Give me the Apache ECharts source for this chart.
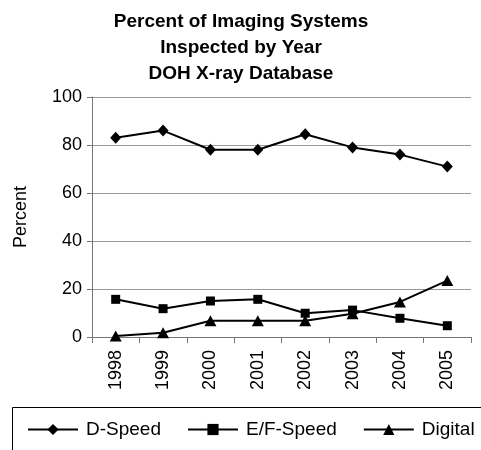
<!DOCTYPE html>
<html>
<head>
<meta charset="utf-8">
<script src="https://cdn.jsdelivr.net/npm/echarts@6/dist/echarts.min.js"></script>
<style>
  html, body { margin: 0; padding: 0; background: #fff; }
  #chart { width: 481px; height: 450px; }
</style>
</head>
<body>
<div id="chart"></div>
<script>
// data
var years = ['1998', '1999', '2000', '2001', '2002', '2003', '2004', '2005'];
var dSpeed = [83, 86, 78, 78, 84.5, 79, 76, 71];
var efSpeed = [15.7, 11.8, 15, 15.7, 9.9, 11.2, 7.8, 4.7];
var digital = [0.4, 1.8, 6.8, 6.8, 6.8, 9.7, 14.6, 23.5];
var yTicks = [0, 20, 40, 60, 80, 100];

var font = 'Arial, "Liberation Sans", sans-serif';

function lineSeries (name, data, symbol, size) {
  return {
    name: name,
    type: 'line',
    data: data,
    symbol: symbol,
    symbolSize: size,
    showAllSymbol: true,
    lineStyle: { color: '#000', width: 2 },
    itemStyle: { color: '#000' },
    emphasis: { disabled: true }
  };
}

var chart = echarts.init(document.getElementById('chart'));
chart.setOption({
  animation: false,
  title: {
    text: 'Percent of Imaging Systems\nInspected by Year\nDOH X-ray Database',
    left: 236,
    textAlign: 'center',
    top: 4,
    textStyle: { fontFamily: font, fontSize: 19, fontWeight: 'bold', lineHeight: 26, color: '#000' }
  },
  grid: { left: 92, right: 10, top: 97, bottom: 113 },
  xAxis: {
    type: 'category',
    data: years,
    boundaryGap: true,
    axisLine: { lineStyle: { color: '#777', width: 1 } },
    axisTick: { show: true, alignWithLabel: false, length: 6, lineStyle: { color: '#777' } },
    axisLabel: { rotate: 90, color: '#000', fontFamily: font, fontSize: 18, margin: 13 }
  },
  yAxis: {
    type: 'value',
    min: yTicks[0],
    max: yTicks[yTicks.length - 1],
    interval: 20,
    name: 'Percent',
    nameLocation: 'middle',
    nameGap: 62,
    nameTextStyle: { fontFamily: font, fontSize: 18, color: '#000' },
    axisLine: { show: true, lineStyle: { color: '#777', width: 1 } },
    axisTick: { show: true, length: 5, lineStyle: { color: '#777' } },
    axisLabel: { color: '#000', fontFamily: font, fontSize: 18, margin: 10 },
    splitLine: { lineStyle: { color: '#999', width: 1 } }
  },
  legend: {
    left: 27,
    top: 420,
    width: 454,
    padding: 0,
    itemWidth: 50,
    itemHeight: 14,
    itemGap: 26,
    textStyle: { fontFamily: font, fontSize: 19, color: '#000', padding: [0, 0, 0, 3] },
    data: ['D-Speed', 'E/F-Speed', 'Digital']
  },
  graphic: [{
    type: 'rect',
    shape: { x: 12.5, y: 407.5, width: 480, height: 60 },
    style: { fill: 'none', stroke: '#000', lineWidth: 1 },
    silent: true
  }],
  series: [
    lineSeries('D-Speed', dSpeed, 'diamond', [11, 12]),
    lineSeries('E/F-Speed', efSpeed, 'rect', 9),
    lineSeries('Digital', digital, 'triangle', [12, 11])
  ]
});
</script>
</body>
</html>
